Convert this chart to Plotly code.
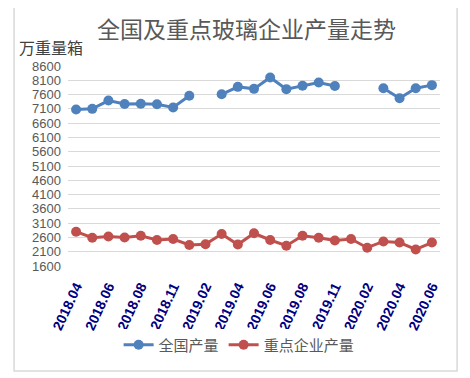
import plotly.graph_objects as go

categories = ["2018.04", "2018.05", "2018.06", "2018.07", "2018.08", "2018.10",
              "2018.11", "2018.12", "2019.02", "2019.03", "2019.04", "2019.05",
              "2019.06", "2019.07", "2019.08", "2019.10", "2019.11", "2019.12",
              "2020.02", "2020.03", "2020.04", "2020.05", "2020.06"]
tick_labels = ["2018.04", "2018.06", "2018.08", "2018.11", "2019.02", "2019.04",
               "2019.06", "2019.08", "2019.11", "2020.02", "2020.04", "2020.06"]
national = [7080, 7100, 7390, 7270, 7280, 7260, 7150, 7560, None, 7610, 7870, 7800,
            8200, 7790, 7910, 8020, 7900, None, None, 7820, 7470, 7820, 7930]
key_firms = [2800, 2590, 2630, 2600, 2660, 2510, 2545, 2335, 2360, 2720, 2350, 2745,
             2510, 2310, 2660, 2590, 2490, 2545, 2240, 2460, 2420, 2180, 2420]
y_ticks = list(range(1600, 8601, 500))

fig = go.Figure()
fig.add_trace(go.Scatter(x=categories, y=national, name="全国产量", mode="lines+markers",
                         line=dict(color="#4F81BD", width=3), marker=dict(size=10, color="#4F81BD"),
                         connectgaps=False))
fig.add_trace(go.Scatter(x=categories, y=key_firms, name="重点企业产量", mode="lines+markers",
                         line=dict(color="#C0504D", width=3), marker=dict(size=10, color="#C0504D"),
                         connectgaps=False))

fig.update_layout(
    width=462, height=370,
    margin=dict(l=60, r=30, t=58, b=112),
    paper_bgcolor="white", plot_bgcolor="white",
    font=dict(family="Noto Sans CJK SC, sans-serif", color="#595959"),
    showlegend=True,
    legend=dict(orientation="h", x=0.46, xanchor="center", y=-0.395, yanchor="middle",
                font=dict(size=15, color="#595959", family="Noto Sans CJK SC"),
                itemwidth=30, tracegroupgap=0),
    xaxis=dict(type="category", categoryorder="array", categoryarray=categories,
               range=[-0.5, len(categories) - 0.5],
               tickmode="array", tickvals=tick_labels, ticktext=tick_labels,
               tickangle=-65, showgrid=False, showline=False, zeroline=False,
               ticks="outside", ticklen=6, tickcolor="rgba(0,0,0,0)",
               tickfont=dict(family="Liberation Sans", size=14, color="#000080", weight="bold")),
    yaxis=dict(range=[1600, 8600], tickmode="array", tickvals=y_ticks,
               showgrid=True, gridcolor="#D9D9D9", gridwidth=1, zeroline=False, showline=False,
               ticks="", ticklabelstandoff=6,
               tickfont=dict(family="Liberation Sans", size=13, color="#595959")),
    annotations=[
        dict(text="全国及重点玻璃企业产量走势", xref="paper", yref="paper", x=0.481, y=1.19,
             xanchor="center", yanchor="middle", showarrow=False,
             font=dict(size=23, color="#595959", family="Noto Sans CJK SC")),
        dict(text="万重量箱", xref="paper", yref="paper", x=-0.137, y=1.095,
             xanchor="left", yanchor="middle", showarrow=False,
             font=dict(size=16, color="#404040", family="Noto Sans CJK SC")),
    ],
    shapes=[dict(type="rect", xref="paper", yref="paper", x0=-0.145, x1=1.046,
                 y0=-0.525, y1=1.295, line=dict(color="#D9D9D9", width=1.5),
                 fillcolor="rgba(0,0,0,0)", layer="below")],
)

fig.write_html("out.html")
